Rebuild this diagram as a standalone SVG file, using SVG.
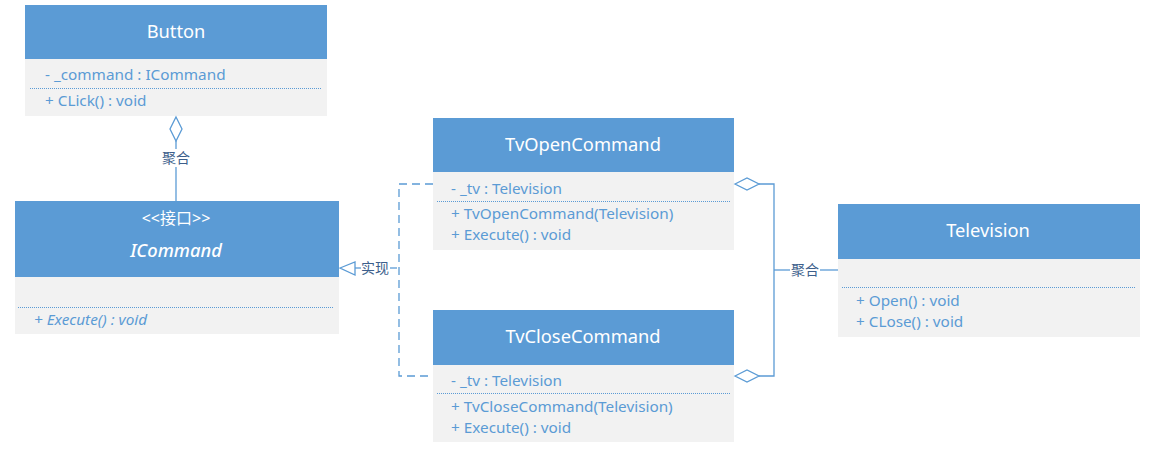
<svg xmlns="http://www.w3.org/2000/svg" width="1162" height="455" viewBox="0 0 1162 455">
<style>
.hd{fill:#5B9BD5}
.bd{fill:#F2F2F2}
.tt{font-family:"Noto Sans","Open Sans","Liberation Sans",sans-serif;font-size:18.3px;fill:#FFFFFF;text-anchor:middle}
.mb{font-family:"Noto Sans","Open Sans","Liberation Sans",sans-serif;font-size:15.3px;fill:#5B9BD5}
.sep{stroke:#5B9BD5;stroke-width:1;stroke-dasharray:1 1;fill:none}
.ln{stroke:#5B9BD5;stroke-width:1.3;fill:none}
.dash{stroke:#5B9BD5;stroke-width:1.3;fill:none;stroke-dasharray:8 5}
.lb{font-family:"Noto Sans CJK SC",sans-serif;font-size:14px;fill:#3D5F8C;text-anchor:middle}
</style>
<rect width="1162" height="455" fill="#FFFFFF"/>
<g id="Button">
<rect class="hd" x="25" y="5" width="302" height="54"/>
<rect class="bd" x="25" y="59" width="302" height="57"/>
<text class="tt" x="176" y="38">Button</text>
<text class="mb" x="45" y="80">- _command : ICommand</text>
<line class="sep" x1="30" y1="88.5" x2="322" y2="88.5"/>
<text class="mb" x="45" y="106">+ CLick() : void</text>
</g>
<g id="ICommand">
<rect class="hd" x="15" y="201" width="324" height="76"/>
<rect class="bd" x="15" y="277" width="324" height="57"/>
<text class="tt" x="176" y="224" style="font-family:'Noto Sans','Noto Sans CJK SC',sans-serif;font-size:16px">&lt;&lt;接口&gt;&gt;</text>
<text class="tt" x="176" y="257" style="font-style:italic;font-weight:500">ICommand</text>
<line class="sep" x1="18" y1="307.5" x2="333" y2="307.5"/>
<text class="mb" x="34" y="325" style="font-style:italic">+ Execute() : void</text>
</g>
<g id="TvOpenCommand">
<rect class="hd" x="433" y="118" width="301" height="54"/>
<rect class="bd" x="433" y="172" width="301" height="78"/>
<text class="tt" x="583" y="151">TvOpenCommand</text>
<text class="mb" x="451" y="194">- _tv : Television</text>
<line class="sep" x1="437" y1="201.5" x2="730" y2="201.5"/>
<text class="mb" x="451" y="219">+ TvOpenCommand(Television)</text>
<text class="mb" x="451" y="240">+ Execute() : void</text>
</g>
<g id="TvCloseCommand">
<rect class="hd" x="433" y="310" width="301" height="55"/>
<rect class="bd" x="433" y="365" width="301" height="77"/>
<text class="tt" x="583" y="343">TvCloseCommand</text>
<text class="mb" x="451" y="386">- _tv : Television</text>
<line class="sep" x1="437" y1="393.5" x2="730" y2="393.5"/>
<text class="mb" x="451" y="412">+ TvCloseCommand(Television)</text>
<text class="mb" x="451" y="433">+ Execute() : void</text>
</g>
<g id="Television">
<rect class="hd" x="838" y="204" width="302" height="55"/>
<rect class="bd" x="838" y="259" width="302" height="78"/>
<text class="tt" x="988" y="237">Television</text>
<line class="sep" x1="842" y1="287.5" x2="1136" y2="287.5"/>
<text class="mb" x="856" y="306">+ Open() : void</text>
<text class="mb" x="856" y="327">+ CLose() : void</text>
</g>
<g id="connectors">
<polygon class="ln" points="176,117 182,129 176,141 170,129" fill="#FFFFFF"/>
<line class="ln" x1="176" y1="141" x2="176" y2="149"/>
<line class="ln" x1="176" y1="167" x2="176" y2="201"/>
<text class="lb" x="176" y="163">聚合</text>
<polygon class="ln" points="340,268 355,262 355,275" fill="#FFFFFF"/>
<line class="ln" x1="355" y1="268" x2="361" y2="268"/>
<text class="lb" x="375" y="273">实现</text>
<line class="ln" x1="390" y1="268" x2="397" y2="268"/>
<polyline class="dash" points="433,184 399,184 399,376 433,376"/>
<polygon class="ln" points="735,184 747,178 759,184 747,190" fill="#FFFFFF"/>
<polygon class="ln" points="735,376 747,370 759,376 747,382" fill="#FFFFFF"/>
<polyline class="ln" points="759,184 774,184 774,376 759,376"/>
<line class="ln" x1="774" y1="270" x2="790" y2="270"/>
<text class="lb" x="805" y="275">聚合</text>
<line class="ln" x1="820" y1="270" x2="838" y2="270"/>
</g>
</svg>
